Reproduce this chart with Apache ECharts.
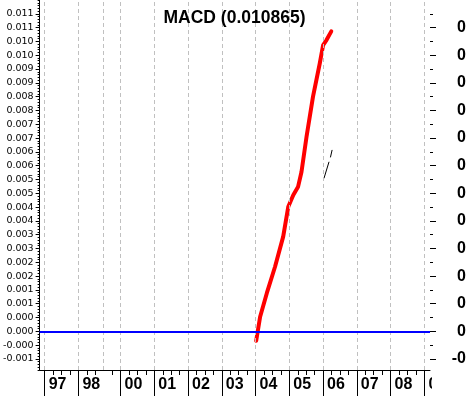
<!DOCTYPE html>
<html>
<head>
<meta charset="utf-8">
<script src="https://cdn.jsdelivr.net/npm/echarts@6/dist/echarts.min.js"></script>
<style>html,body{margin:0;padding:0;background:#fff}#c{width:469px;height:396px}</style>
</head>
<body>
<div id="c"></div>
<script>
// ---- data ----
var titleText = 'MACD (0.010865)';
// x axis in month units from start of 1997 (1998/1999 compressed as in source)
var yearStarts = [0, 12, 21, 27, 39, 51, 63, 75, 87, 99, 111, 123, 135];
var yearLabels = ['97', '98', '', '00', '01', '02', '03', '04', '05', '06', '07', '08', '09'];
var quarterTicks = [3, 6, 9, 15, 18, 24, 30, 33, 36, 42, 45, 48, 54, 57, 60, 66, 69, 72, 78, 81, 84, 90, 93, 96, 102, 105, 108, 114, 117, 120, 126, 129, 132];
var macdX = [75.2, 76.6, 79.0, 81.9, 84.8, 86.6, 88.4, 90.1, 91.3, 93.1, 95.4, 97.8, 99.0, 100.2, 101.9];
var macdY = [-0.00034, 0.00053, 0.00139, 0.00234, 0.00343, 0.00451, 0.00494, 0.00524, 0.00577, 0.00705, 0.0085, 0.0097, 0.01037, 0.01055, 0.010865];
var markA_X = [99.3, 101.1];
var markA_Y = [0.00554, 0.00614];
var markB_X = [101.6, 102.2];
var markB_Y = [0.00630, 0.00657];
var leftTickValues = [-0.001, -0.0005, 0, 0.0005, 0.001, 0.0015, 0.002, 0.0025, 0.003, 0.0035, 0.004, 0.0045, 0.005, 0.0055, 0.006, 0.0065, 0.007, 0.0075, 0.008, 0.0085, 0.009, 0.0095, 0.01, 0.0105, 0.011, 0.0115];
var leftTickLabels = ['-0.001', '-0.000', '0.000', '0.000', '0.001', '0.001', '0.002', '0.002', '0.003', '0.003', '0.004', '0.004', '0.005', '0.005', '0.006', '0.006', '0.007', '0.007', '0.008', '0.008', '0.009', '0.009', '0.010', '0.010', '0.011', '0.011'];
var rightTickValues = [-0.001, 0, 0.001, 0.002, 0.003, 0.004, 0.005, 0.006, 0.007, 0.008, 0.009, 0.01, 0.011];
var rightTickLabels = ['-0', '0', '0', '0', '0', '0', '0', '0', '0', '0', '0', '0', '0'];
var rightMinorValues = [-0.0005, 0.0005, 0.0015, 0.0025, 0.0035, 0.0045, 0.0055, 0.0065, 0.0075, 0.0085, 0.0095, 0.0105, 0.0115];
var zeroLevel = 0;

// ---- chart ----
var yMin = -0.0014, yMax = 0.012, xMin = -1.8, xMax = 137;
function pairs(xs, ys) { return xs.map(function (x, i) { return [x, ys[i]]; }); }
function lookup(vals, labels, v) {
  for (var i = 0; i < vals.length; i++) if (Math.abs(vals[i] - v) < 1e-9) return labels[i];
  return '';
}
var sepTicks = yearStarts.filter(function (v, i) { return yearLabels[i] !== ''; });
var black = '#000';
var chart = echarts.init(document.getElementById('c'), null, { renderer: 'canvas' });
chart.setOption({
  animation: false,
  backgroundColor: '#fff',
  title: {
    text: titleText, left: 'center', top: 4,
    textStyle: { fontFamily: 'Liberation Sans', fontWeight: 'bold', fontSize: 17.5, color: '#000' }
  },
  grid: { left: 38, right: 38, top: 0, bottom: 26, containLabel: false },
  xAxis: [
    {
      type: 'value', min: xMin, max: xMax, position: 'bottom',
      axisLine: { show: true, onZero: false, lineStyle: { color: black, width: 1 } },
      axisTick: { show: true, customValues: quarterTicks, length: 5, lineStyle: { color: black } },
      axisLabel: { show: false }, splitLine: { show: false }
    },
    {
      type: 'value', min: xMin, max: xMax, position: 'bottom',
      axisLine: { show: false, onZero: false },
      axisTick: { show: true, customValues: sepTicks, length: 26, lineStyle: { color: black } },
      axisLabel: {
        show: true, customValues: sepTicks, align: 'left', margin: 7, padding: [0, 0, 0, 4],
        fontFamily: 'Liberation Sans', fontWeight: 'bold', fontSize: 16, color: '#000',
        formatter: function (v) { return lookup(yearStarts, yearLabels, v); }
      },
      splitLine: { show: false }
    }
  ],
  yAxis: [
    {
      type: 'value', min: yMin, max: yMax, position: 'left',
      axisLine: { show: true, onZero: false, lineStyle: { color: black, width: 1 } },
      axisTick: { show: true, customValues: leftTickValues, length: 4, lineStyle: { color: black } },
      axisLabel: {
        show: true, customValues: leftTickValues, margin: 6,
        fontFamily: 'DejaVu Sans', fontSize: 9.5, color: '#000',
        formatter: function (v) { return lookup(leftTickValues, leftTickLabels, v); }
      },
      splitLine: { show: false }
    },
    {
      type: 'value', min: yMin, max: yMax, interval: 0.0001, position: 'left',
      axisLine: { show: false, onZero: false },
      axisTick: { show: true, length: 2, lineStyle: { color: black } },
      axisLabel: { show: false }, splitLine: { show: false }
    },
    {
      type: 'value', min: yMin, max: yMax, position: 'right',
      axisLine: { show: false, onZero: false },
      axisTick: { show: true, customValues: rightTickValues, length: 6, lineStyle: { color: black } },
      axisLabel: {
        show: true, customValues: rightTickValues, margin: 36, align: 'right',
        fontFamily: 'Liberation Sans', fontWeight: 'bold', fontSize: 16, color: '#000',
        formatter: function (v) { return lookup(rightTickValues, rightTickLabels, v); }
      },
      splitLine: { show: false }
    },
    {
      type: 'value', min: yMin, max: yMax, position: 'right',
      axisLine: { show: false, onZero: false },
      axisTick: { show: true, customValues: rightMinorValues, length: 3, lineStyle: { color: black } },
      axisLabel: { show: false }, splitLine: { show: false }
    }
  ],
  series: [
    {
      type: 'line', xAxisIndex: 0, yAxisIndex: 0, data: [], z: 1, silent: true,
      markLine: {
        silent: true, symbol: ['none', 'none'], label: { show: false }, animation: false,
        data: yearStarts.map(function (v) {
          return { xAxis: v, lineStyle: { color: '#c0c0c0', width: 1, type: [4, 3] } };
        }).concat([{ yAxis: zeroLevel, lineStyle: { color: '#0000ff', width: 2, type: 'solid' } }])
      }
    },
    {
      type: 'line', xAxisIndex: 0, yAxisIndex: 0, z: 3, symbol: 'none', smooth: false,
      data: pairs(macdX, macdY),
      lineStyle: { color: '#ff0000', width: 4, cap: 'round', join: 'round' }
    },
    {
      type: 'line', xAxisIndex: 0, yAxisIndex: 0, z: 3, symbol: 'none',
      data: pairs(markA_X, markA_Y), lineStyle: { color: '#000', width: 1 }
    },
    {
      type: 'line', xAxisIndex: 0, yAxisIndex: 0, z: 3, symbol: 'none',
      data: pairs(markB_X, markB_Y), lineStyle: { color: '#000', width: 1 }
    }
  ],
  graphic: [
    { type: 'rect', left: 432, top: 372, shape: { width: 37, height: 24 }, style: { fill: '#fff' }, z: 100 }
  ]
});
</script>
</body>
</html>
